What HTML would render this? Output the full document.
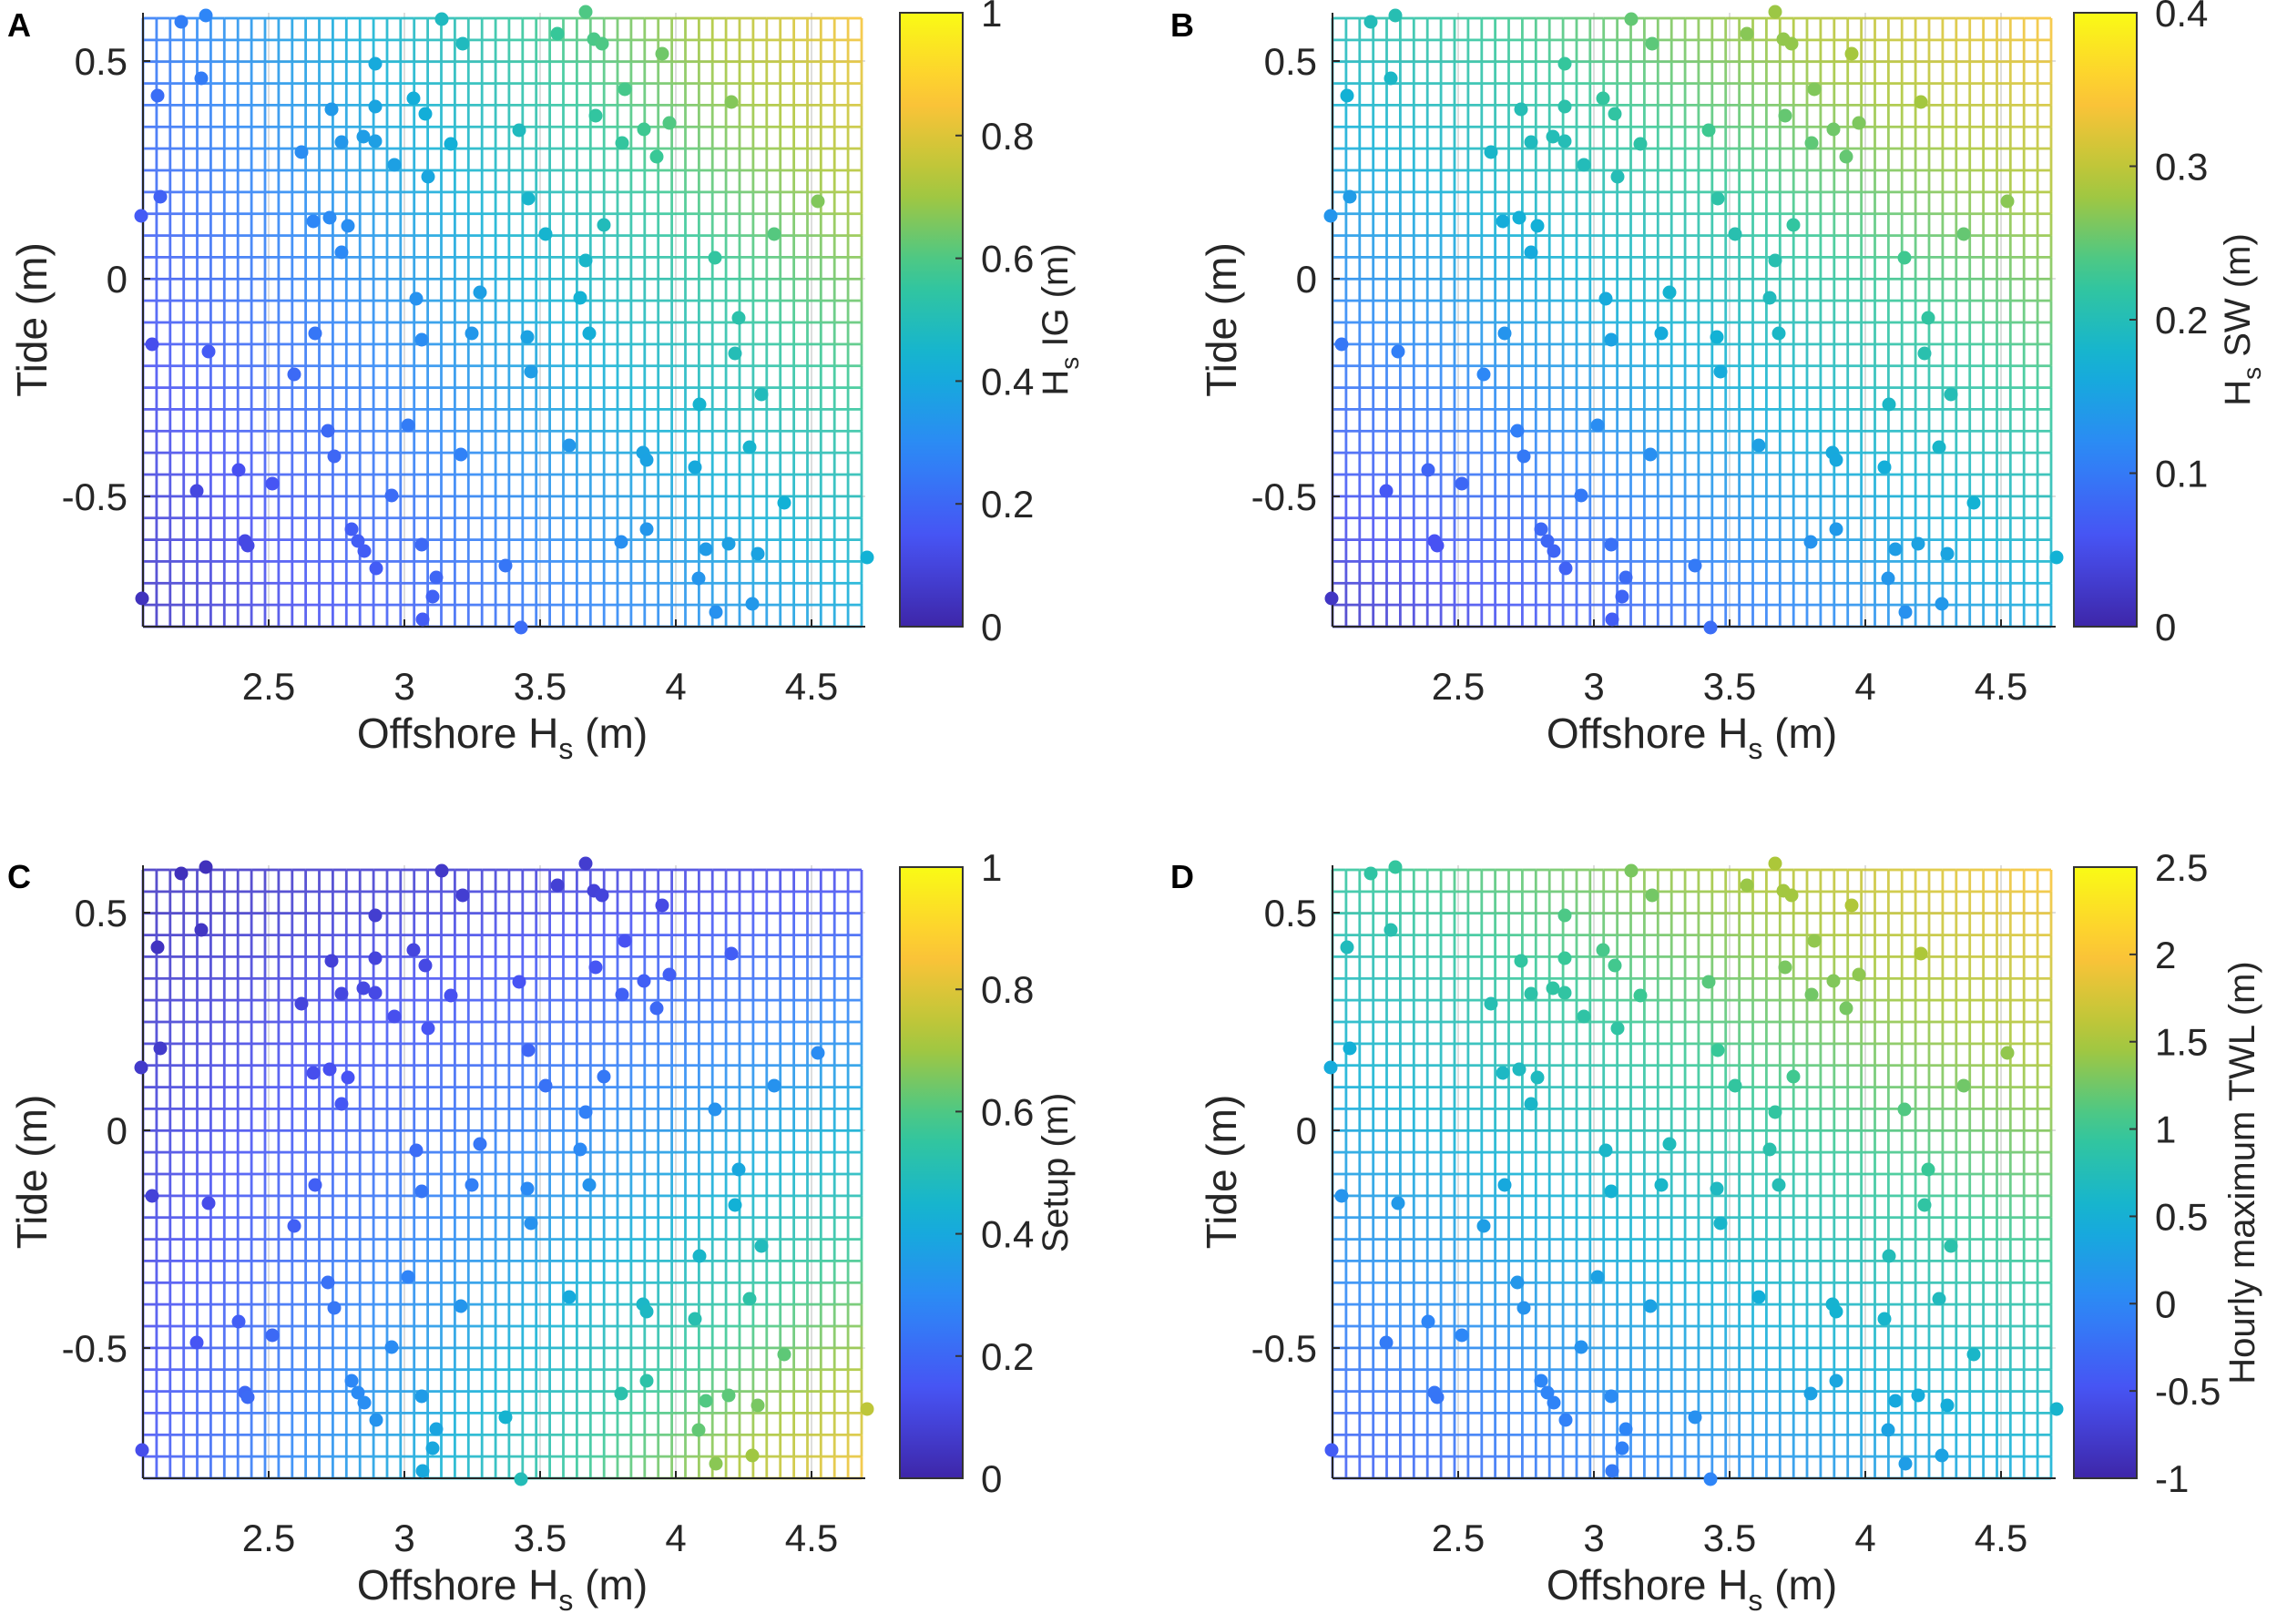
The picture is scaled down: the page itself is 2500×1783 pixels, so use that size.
<!DOCTYPE html>
<html><head><meta charset="utf-8">
<style>
html,body{margin:0;padding:0;background:#fff;}
svg{display:block;font-family:"Liberation Sans",Arial,sans-serif;}
</style></head>
<body>
<svg id="s" xmlns="http://www.w3.org/2000/svg" width="2500" height="1783" viewBox="0 0 2500 1783"></svg>
<script>
(function(){
var NS="http://www.w3.org/2000/svg";
var svg=document.getElementById('s');
var P=[[0.2422,0.1504,0.6603],[0.2810,0.3228,0.9579],[0.1786,0.5289,0.9682],[0.0689,0.6948,0.8394],[0.2161,0.7843,0.5923],[0.6720,0.7793,0.2227],[0.9970,0.7659,0.2199],[0.9769,0.9839,0.0805]];
function cmap(v){v=Math.max(0,Math.min(1,v));var t=v*7,i=Math.min(6,Math.floor(t)),f=t-i;var a=P[i],b=P[i+1];
return 'rgb('+Math.round(255*(a[0]+(b[0]-a[0])*f))+','+Math.round(255*(a[1]+(b[1]-a[1])*f))+','+Math.round(255*(a[2]+(b[2]-a[2])*f))+')';}
function el(n,at,txt){var e=document.createElementNS(NS,n);for(var k in at)e.setAttribute(k,at[k]);if(txt!==undefined)e.textContent=txt;svg.appendChild(e);return e;}
var pts=[[199,24],[226,17],[485,21],[643,13],[612,37],[508,48],[652,43],[661,48],[727,59],[412,70],[221,86],[173,105],[686,98],[803,112],[454,108],[364,120],[412,117],[467,125],[654,127],[735,135],[707,142],[570,143],[683,157],[375,156],[399,150],[412,155],[495,158],[331,167],[721,172],[433,181],[470,194],[176,216],[580,218],[898,221],[155,237],[344,243],[362,239],[382,248],[663,247],[599,257],[850,257],[375,277],[643,286],[785,283],[457,328],[527,321],[637,327],[811,349],
[167,378],[229,386],[346,366],[463,373],[518,366],[579,370],[647,366],[807,388],[323,411],[583,408],[836,433],[768,444],[360,473],[448,467],[625,489],[706,497],[710,505],[823,491],[367,501],[506,499],[763,513],[262,516],[299,531],[216,539],[430,544],[861,552],[386,581],[710,581],[269,594],[272,599],[393,594],[400,605],[463,598],[682,595],[775,603],[800,597],[832,608],[952,612],[413,624],[555,621],[767,635],[479,634],[475,655],[156,657],[826,663],[786,672],[464,680],[572,689]];
var panels=[
 {L:157,R:946,axR:950,T:14,B:688,gT:20,dy:0,cb:988,cbT:14,cbB:688,let:'A',lx:8,ly:40,f:[0.05,0.25,0.4,0.85],ticks:['0','0.2','0.4','0.6','0.8','1'],lab:'IG (m)',sub:true,lbx:1172},
 {L:1463,R:2252,axR:2257,T:14,B:688,gT:20,dy:0,cb:2277,cbT:14,cbB:688,let:'B',lx:1285,ly:40,f:[0.05,0.5,0.4,0.85],ticks:['0','0.1','0.2','0.3','0.4'],lab:'SW (m)',sub:true,lbx:2470},
 {L:157,R:946,axR:950,T:950,B:1623,gT:955,dy:935,cb:988,cbT:952,cbB:1623,let:'C',lx:8,ly:975,f:[0.15,0.05,0.85,0.12],ticks:['0','0.2','0.4','0.6','0.8','1'],lab:'Setup (m)',sub:false,lbx:1172},
 {L:1463,R:2252,axR:2257,T:950,B:1623,gT:955,dy:935,cb:2277,cbT:952,cbB:1623,let:'D',lx:1285,ly:975,f:[0.17,0.55,0.42,0.85],ticks:['-1','-0.5','0','0.5','1','1.5','2','2.5'],lab:'Hourly maximum TWL (m)',sub:false,lbx:2475}
];
var xt=[[295,'2.5'],[444,'3'],[593,'3.5'],[742,'4'],[891,'4.5']];
var yt=[[67,'0.5'],[306,'0'],[545,'-0.5']];
panels.forEach(function(p){
 var W=p.R-p.L,H=p.B-p.gT;
 function fv(u,w){var f=p.f;return f[0]*(1-u)*(1-w)+f[1]*(1-u)*w+f[2]*u*(1-w)+f[3]*u*w;}
 xt.forEach(function(t){var x=p.L+(t[0]-157);el('line',{x1:x,y1:p.T,x2:x,y2:p.B,stroke:'#dedede','stroke-width':2});});
 yt.forEach(function(t){var y=t[0]+p.dy;el('line',{x1:p.L,y1:y,x2:p.axR,y2:y,stroke:'#dedede','stroke-width':2});});
 var g=el('g',{'stroke-width':2.8,opacity:0.88});
 var NC=53,NR=28,sx=W/NC,sy=H/NR;
 for(var j=0;j<=NR;j++){var y=p.gT+j*sy,w=1-j/NR;
  for(var i=0;i<NC;i++){var u=(i+0.5)/NC;var l=document.createElementNS(NS,'line');
   l.setAttribute('x1',(p.L+i*sx).toFixed(1));l.setAttribute('x2',(p.L+(i+1)*sx).toFixed(1));l.setAttribute('y1',y.toFixed(1));l.setAttribute('y2',y.toFixed(1));l.setAttribute('stroke',cmap(fv(u,w)));g.appendChild(l);}}
 for(var i=0;i<=NC;i++){var x=p.L+i*sx,u=i/NC;
  for(var j=0;j<NR;j++){var w=1-(j+0.5)/NR;var l=document.createElementNS(NS,'line');
   l.setAttribute('x1',x.toFixed(1));l.setAttribute('x2',x.toFixed(1));l.setAttribute('y1',(p.gT+j*sy).toFixed(1));l.setAttribute('y2',(p.gT+(j+1)*sy).toFixed(1));l.setAttribute('stroke',cmap(fv(u,w)));g.appendChild(l);}}
 el('line',{x1:p.L,y1:p.T,x2:p.L,y2:p.B,stroke:'#262626','stroke-width':2});
 el('line',{x1:p.L,y1:p.B,x2:p.axR,y2:p.B,stroke:'#262626','stroke-width':2});
 xt.forEach(function(t){var x=p.L+(t[0]-157);el('line',{x1:x,y1:p.B,x2:x,y2:p.B-8,stroke:'#262626','stroke-width':2});
  el('text',{x:x,y:p.B+80,'text-anchor':'middle','font-size':42,fill:'#262626'},t[1]);});
 yt.forEach(function(t){var y=t[0]+p.dy;el('line',{x1:p.L,y1:y,x2:p.L+8,y2:y,stroke:'#262626','stroke-width':2});
  el('text',{x:p.L-17,y:y+15,'text-anchor':'end','font-size':42,fill:'#262626'},t[1]);});
 pts.forEach(function(q){var X=p.L+(q[0]-157),Y=q[1]+p.dy;var u=(q[0]-157)/789,w=1-(q[1]-20)/668;
  el('circle',{cx:X,cy:Y,r:7.5,fill:cmap(fv(Math.min(1,Math.max(0,u)),Math.min(1,Math.max(0,w)))-0.02)});});
 var xl=el('text',{x:(p.L+p.R)/2,y:p.B+133,'text-anchor':'middle','font-size':46,fill:'#262626'});
 xl.innerHTML='Offshore H<tspan font-size="32" dy="12">s</tspan><tspan dy="-12"> (m)</tspan>';
 var cy=(p.T+p.B)/2;
 el('text',{x:0,y:0,'text-anchor':'middle','font-size':46,fill:'#262626',transform:'translate('+(p.L-106)+','+cy+') rotate(-90)'},'Tide (m)');
 el('text',{x:p.lx,y:p.ly,'font-size':36,'font-weight':'bold',fill:'#000'},p.let);
 var gid='cg'+p.let;var lg=el('linearGradient',{id:gid,x1:0,y1:1,x2:0,y2:0});
 for(var k=0;k<=20;k++){var st=document.createElementNS(NS,'stop');st.setAttribute('offset',k/20);st.setAttribute('stop-color',cmap(k/20));lg.appendChild(st);}
 el('rect',{x:p.cb,y:p.cbT,width:69,height:p.cbB-p.cbT,fill:'url(#'+gid+')',stroke:'#333','stroke-width':2});
 var n=p.ticks.length-1;
 p.ticks.forEach(function(t,k){var y=p.cbB-(p.cbB-p.cbT)*k/n;
  if(k>0&&k<n)el('line',{x1:p.cb+69,y1:y,x2:p.cb+61,y2:y,stroke:'#333','stroke-width':2});
  el('text',{x:p.cb+89,y:y+15,'font-size':42,fill:'#262626'},t);});
 var cl=el('text',{x:0,y:0,'text-anchor':'middle','font-size':40,fill:'#262626',transform:'translate('+p.lbx+','+((p.cbT+p.cbB)/2)+') rotate(-90)'});
 if(p.sub){cl.innerHTML='H<tspan font-size="28" dy="12">s</tspan><tspan dy="-12"> '+p.lab+'</tspan>';}else{cl.textContent=p.lab;}
});
})();
</script>
</body></html>
